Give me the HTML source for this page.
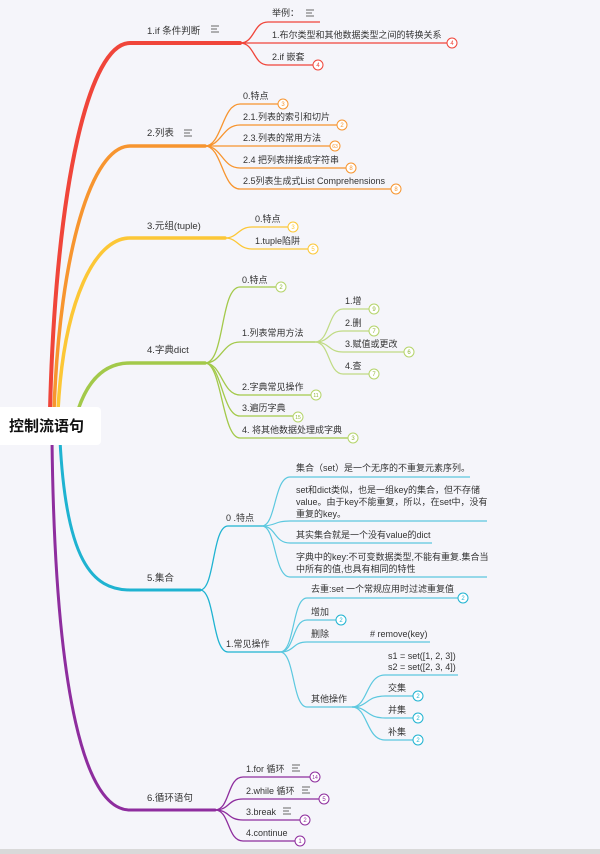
<!DOCTYPE html>
<html><head><meta charset="utf-8"><style>
html,body{margin:0;padding:0;background:#f5f5fa;}
svg{display:block;}
text{font-family:"Liberation Sans","Noto Sans CJK SC",sans-serif;font-size:9px;fill:#333;}
.b text{font-size:6px;text-anchor:middle;}
</style></head><body>
<svg width="600" height="854" viewBox="0 0 600 854" xmlns="http://www.w3.org/2000/svg">
<rect x="0" y="0" width="600" height="854" fill="#f5f5fa"/>
<rect x="0" y="849" width="600" height="5" fill="#d9d9d9"/>

<!-- main branches -->
<g fill="none" stroke-linecap="round">
<path d="M50,410 C56,180 90,43 130,43 L240,43" stroke="#f0453a" stroke-width="4"/>
<path d="M54,410 C60,250 92,146 130,146 L205,146" stroke="#f7952f" stroke-width="3.5"/>
<path d="M58,410 C64,300 95,238 130,238 L225,238" stroke="#fcc736" stroke-width="3.5"/>
<path d="M78,410 C88,380 105,363 130,363 L205,363" stroke="#a3c94a" stroke-width="3.5"/>
<path d="M60,440 C66,560 92,590 130,590 L200,590" stroke="#1fb3d1" stroke-width="3"/>
<path d="M52,440 C55,700 86,810 130,810 L215,810" stroke="#8e2d9e" stroke-width="3"/>
</g>

<!-- red children -->
<g fill="none" stroke="#f0453a" stroke-width="1.3">
<path d="M240,43 C255,43 253,22 268,22 L320,22"/>
<path d="M240,43 L447,43"/>
<path d="M240,43 C255,43 253,65 268,65 L313,65"/>
</g>
<!-- orange children -->
<g fill="none" stroke="#f7952f" stroke-width="1.3">
<path d="M205,146 C222,146 222,104 240,104 L278,104"/>
<path d="M205,146 C222,146 222,125 240,125 L337,125"/>
<path d="M205,146 L330,146"/>
<path d="M205,146 C222,146 222,168 240,168 L346,168"/>
<path d="M205,146 C222,146 222,189 240,189 L391,189"/>
</g>
<!-- yellow -->
<g fill="none" stroke="#fcc736" stroke-width="1.3">
<path d="M225,238 C238,238 238,227 252,227 L288,227"/>
<path d="M225,238 C238,238 238,249 252,249 L308,249"/>
</g>
<!-- green -->
<g fill="none" stroke="#a3c94a" stroke-width="1.3">
<path d="M205,363 C225,363 220,287 240,287 L276,287"/>
<path d="M205,363 C222,363 222,342 240,342 L315,342"/>
<path d="M205,363 C222,363 222,395 240,395 L311,395"/>
<path d="M205,363 C222,363 222,416 240,416 L293,416"/>
<path d="M205,363 C222,363 222,438 240,438 L348,438"/>
</g>
<g fill="none" stroke="#c0db84" stroke-width="1.2">
<path d="M315,342 C330,342 328,309 343,309 L369,309"/>
<path d="M315,342 C330,342 328,331 343,331 L369,331"/>
<path d="M315,342 C330,342 328,352 343,352 L404,352"/>
<path d="M315,342 C330,342 328,374 343,374 L369,374"/>
</g>
<!-- blue -->
<g fill="none" stroke="#1fb3d1" stroke-width="1.3">
<path d="M200,590 C215,590 212,526 228,526 L262,526"/>
<path d="M200,590 C215,590 212,652 228,652 L280,652"/>
</g>
<g fill="none" stroke="#5cc8df" stroke-width="1.2">
<path d="M262,526 C276,526 274,477 290,477 L470,477"/>
<path d="M262,526 C276,526 274,521 290,521 L487,521"/>
<path d="M262,526 C276,526 274,543 290,543 L432,543"/>
<path d="M262,526 C276,526 274,577 290,577 L487,577"/>
<path d="M280,652 C295,652 292,598 307,598 L458,598"/>
<path d="M280,652 C295,652 292,620 307,620 L336,620"/>
<path d="M280,652 C295,652 292,642 307,642 L430,642"/>
<path d="M280,652 C295,652 292,707 307,707 L352,707"/>
<path d="M352,707 C368,707 366,675 385,675 L458,675"/>
<path d="M352,707 C368,707 366,696 385,696 L413,696"/>
<path d="M352,707 C368,707 366,718 385,718 L413,718"/>
<path d="M352,707 C368,707 366,740 385,740 L413,740"/>
</g>
<!-- purple -->
<g fill="none" stroke="#8e2d9e" stroke-width="1.3">
<path d="M215,810 C230,810 227,777 243,777 L310,777"/>
<path d="M215,810 C230,810 227,799 243,799 L319,799"/>
<path d="M215,810 C230,810 227,820 243,820 L300,820"/>
<path d="M215,810 C230,810 227,841 243,841 L295,841"/>
</g>

<!-- badges -->
<g class="b" stroke-width="1">
<g stroke="#f0453a"><circle cx="452" cy="43" r="5" fill="#fff"/><circle cx="318" cy="65" r="5" fill="#fff"/></g>
<g fill="#f0453a"><text x="452" y="45" style="fill:#f0453a">4</text><text x="318" y="67" style="fill:#f0453a">4</text></g>
<g stroke="#f7952f" fill="#fff"><circle cx="283" cy="104" r="5"/><circle cx="342" cy="125" r="5"/><circle cx="335" cy="146" r="5"/><circle cx="351" cy="168" r="5"/><circle cx="396" cy="189" r="5"/></g>
<g style="fill:#f7952f"><text x="283" y="106" style="fill:#f7952f">3</text><text x="342" y="127" style="fill:#f7952f">2</text><text x="335" y="148" style="fill:#f7952f;font-size:5px">63</text><text x="351" y="170" style="fill:#f7952f">8</text><text x="396" y="191" style="fill:#f7952f">8</text></g>
<g stroke="#fcc736" fill="#fff"><circle cx="293" cy="227" r="5"/><circle cx="313" cy="249" r="5"/></g>
<text x="293" y="229" style="fill:#fcc736">3</text><text x="313" y="251" style="fill:#fcc736">5</text>
<g stroke="#b5d46a" fill="#fff"><circle cx="281" cy="287" r="5"/><circle cx="374" cy="309" r="5"/><circle cx="374" cy="331" r="5"/><circle cx="409" cy="352" r="5"/><circle cx="374" cy="374" r="5"/><circle cx="316" cy="395" r="5"/><circle cx="298" cy="417" r="5"/><circle cx="353" cy="438" r="5"/></g>
<g><text x="281" y="289" style="fill:#8fb43a">2</text><text x="374" y="311" style="fill:#8fb43a">9</text><text x="374" y="333" style="fill:#8fb43a">7</text><text x="409" y="354" style="fill:#8fb43a">6</text><text x="374" y="376" style="fill:#8fb43a">7</text><text x="316" y="397" style="fill:#8fb43a;font-size:5px">11</text><text x="298" y="419" style="fill:#8fb43a;font-size:5px">15</text><text x="353" y="440" style="fill:#8fb43a">3</text></g>
<g stroke="#1fb3d1" fill="#fff"><circle cx="463" cy="598" r="5"/><circle cx="341" cy="620" r="5"/><circle cx="418" cy="696" r="5"/><circle cx="418" cy="718" r="5"/><circle cx="418" cy="740" r="5"/></g>
<g><text x="463" y="600" style="fill:#1fb3d1">2</text><text x="341" y="622" style="fill:#1fb3d1">2</text><text x="418" y="698" style="fill:#1fb3d1">2</text><text x="418" y="720" style="fill:#1fb3d1">2</text><text x="418" y="742" style="fill:#1fb3d1">2</text></g>
<g stroke="#8e2d9e" fill="#fff"><circle cx="315" cy="777" r="5"/><circle cx="324" cy="799" r="5"/><circle cx="305" cy="820" r="5"/><circle cx="300" cy="841" r="5"/></g>
<g><text x="315" y="779" style="fill:#8e2d9e;font-size:5px">14</text><text x="324" y="801" style="fill:#8e2d9e">5</text><text x="305" y="822" style="fill:#8e2d9e">2</text><text x="300" y="843" style="fill:#8e2d9e">1</text></g>
</g>

<!-- note icons -->
<g stroke="#666" stroke-width="0.9">
<path d="M211,26h8M211,29h6M211,32h8"/>
<path d="M184,130h8M184,133h6M184,136h8"/>
<path d="M306,10h8M306,13h6M306,16h8"/>
<path d="M292,765h8M292,768h6M292,771h8"/>
<path d="M302,787h8M302,790h6M302,793h8"/>
<path d="M283,808h8M283,811h6M283,814h8"/>
</g>

<!-- labels level 1 -->
<text x="147" y="34" style="font-size:9.5px">1.if 条件判断</text>
<text x="147" y="136" style="font-size:9.5px">2.列表</text>
<text x="147" y="229" style="font-size:9.5px">3.元组(tuple)</text>
<text x="147" y="353" style="font-size:9.5px">4.字典dict</text>
<text x="147" y="581" style="font-size:9.5px">5.集合</text>
<text x="147" y="801" style="font-size:9.5px">6.循环语句</text>

<!-- if -->
<text x="272" y="16">举例：</text>
<text x="272" y="38">1.布尔类型和其他数据类型之间的转换关系</text>
<text x="272" y="60">2.if 嵌套</text>
<!-- list -->
<text x="243" y="99">0.特点</text>
<text x="243" y="120">2.1.列表的索引和切片</text>
<text x="243" y="141">2.3.列表的常用方法</text>
<text x="243" y="163">2.4 把列表拼接成字符串</text>
<text x="243" y="184">2.5列表生成式List Comprehensions</text>
<!-- tuple -->
<text x="255" y="222">0.特点</text>
<text x="255" y="244">1.tuple陷阱</text>
<!-- dict -->
<text x="242" y="283">0.特点</text>
<text x="242" y="336">1.列表常用方法</text>
<text x="345" y="304">1.增</text>
<text x="345" y="326">2.删</text>
<text x="345" y="347">3.赋值或更改</text>
<text x="345" y="369">4.查</text>
<text x="242" y="390">2.字典常见操作</text>
<text x="242" y="411">3.遍历字典</text>
<text x="242" y="433">4. 将其他数据处理成字典</text>
<!-- set -->
<text x="226" y="521">0 .特点</text>
<text x="296" y="471">集合（set）是一个无序的不重复元素序列。</text>
<text x="296" y="493">set和dict类似，也是一组key的集合，但不存储</text>
<text x="296" y="505">value。由于key不能重复，所以，在set中，没有</text>
<text x="296" y="517">重复的key。</text>
<text x="296" y="538">其实集合就是一个没有value的dict</text>
<text x="296" y="560">字典中的key:不可变数据类型,不能有重复.集合当</text>
<text x="296" y="572">中所有的值,也具有相同的特性</text>
<text x="226" y="647">1.常见操作</text>
<text x="311" y="592">去重:set 一个常规应用时过滤重复值</text>
<text x="311" y="615">增加</text>
<text x="311" y="637">删除</text>
<text x="370" y="637"># remove(key)</text>
<text x="311" y="702">其他操作</text>
<text x="388" y="659">s1 = set([1, 2, 3])</text>
<text x="388" y="670">s2 = set([2, 3, 4])</text>
<text x="388" y="691">交集</text>
<text x="388" y="713">并集</text>
<text x="388" y="735">补集</text>
<!-- loop -->
<text x="246" y="772">1.for 循环</text>
<text x="246" y="794">2.while 循环</text>
<text x="246" y="815">3.break</text>
<text x="246" y="836">4.continue</text>

<!-- root -->
<rect x="-6" y="407" width="107" height="38" rx="4" fill="#fff"/>
<text x="9" y="431" style="font-size:15px;font-weight:bold;fill:#111">控制流语句</text>
</svg>
</body></html>
